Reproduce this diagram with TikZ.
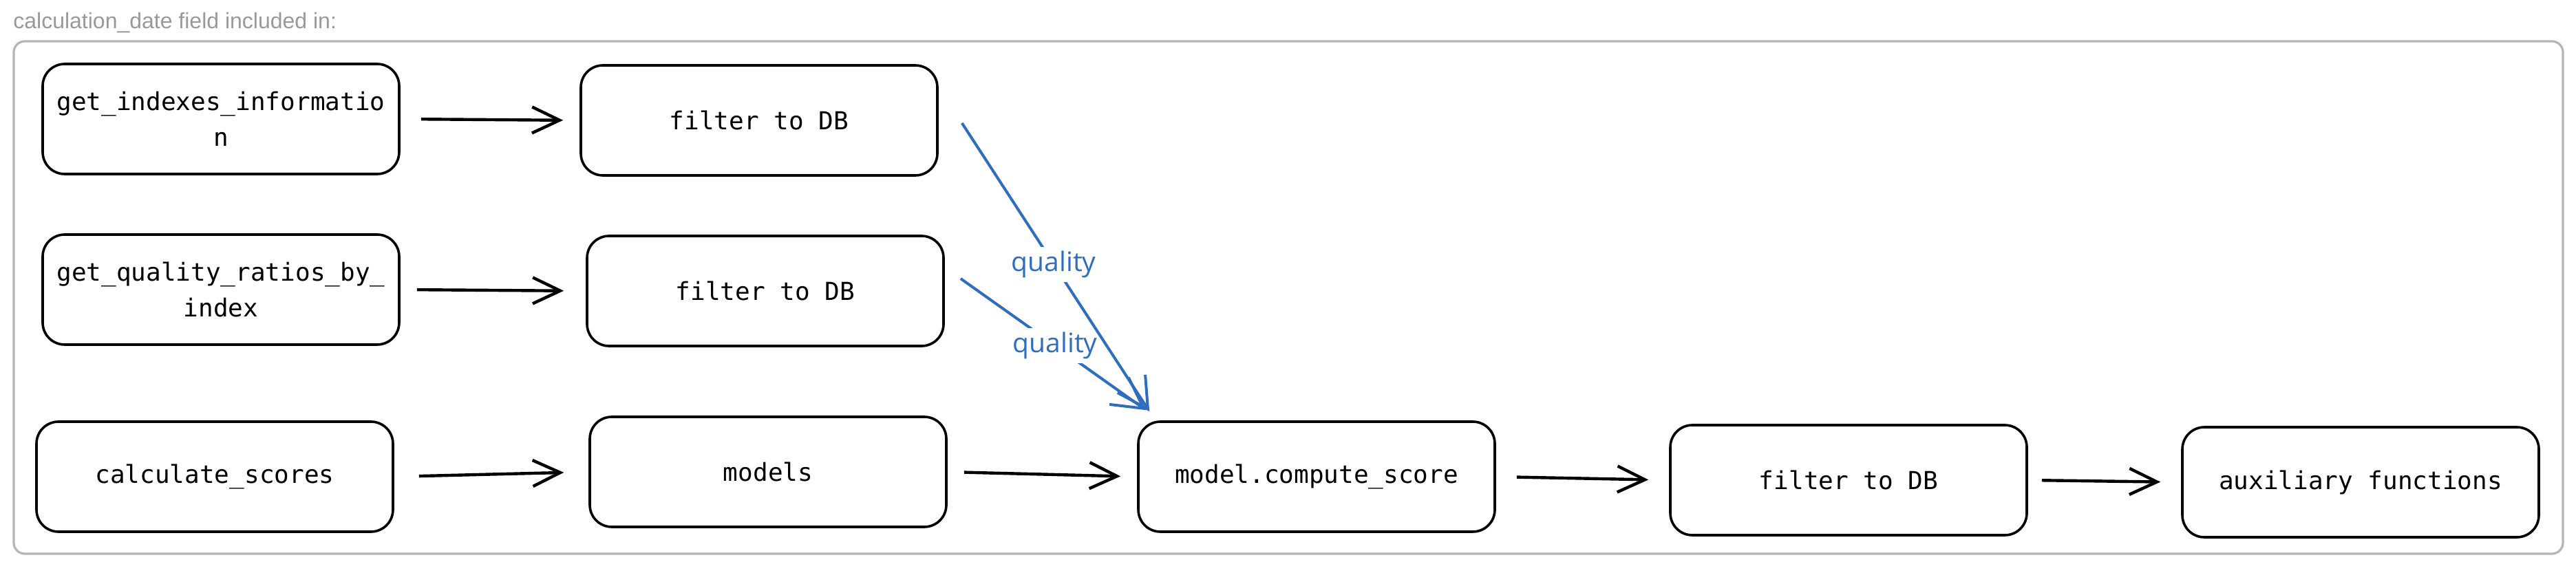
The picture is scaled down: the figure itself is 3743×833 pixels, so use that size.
\documentclass[tikz,border=0pt]{standalone}
\usepackage{fontspec}
\usetikzlibrary{arrows.meta,calc}
\newfontfamily\boxfont{DejaVu Sans Mono}
\newfontfamily\titlefont{Liberation Sans}
\newfontfamily\labelfont{Open Sans}
\definecolor{framegray}{HTML}{B5B5B5}
\definecolor{qblue}{HTML}{2F6DBE}
\definecolor{titlegray}{HTML}{999999}
\begin{document}
\begin{tikzpicture}[x=0.5pt,y=-0.5pt,
  fbox/.style={draw=black, line width=1.8pt, rounded corners=16pt, minimum width=259pt, minimum height=80pt, align=center, font=\boxfont\fontsize{18}{26}\selectfont, inner sep=0pt},
  arr/.style={line width=2.2pt, -{Straight Barb[length=20pt,width=19pt,line width=2.2pt]}},
  qarr/.style={draw=qblue, line width=2pt, -{Straight Barb[length=22pt,width=24pt,line width=2pt]}},
  qlabel/.style={fill=white, text=qblue, font=\labelfont\fontsize{19.5}{22}\selectfont, inner sep=3pt}]
\useasboundingbox (0,0) rectangle (3743,833);
\node[anchor=west, text=titlegray, font=\titlefont\fontsize{16}{18}\selectfont, inner sep=0pt] (title) at (19,33) {calculation\_date field included in:};
\node[draw=framegray, line width=1.6pt, rounded corners=8pt, minimum width=1852pt, minimum height=372.5pt, inner sep=0pt] (frame) at (1872,432.5) {};
\node[fbox] (A) at (321,173) {get\_indexes\_informatio\\n};
\node[fbox] (B) at (1103,175) {filter to DB};
\node[fbox] (C) at (321,421) {get\_quality\_ratios\_by\_\\index};
\node[fbox] (D) at (1112,423) {filter to DB};
\node[fbox] (E) at (312,693) {calculate\_scores};
\node[fbox] (F) at (1116,686) {models};
\node[fbox] (G) at (1913,693) {model.compute\_score};
\node[fbox] (H) at (2686,698) {filter to DB};
\node[fbox] (I) at (3430,701) {auxiliary functions};
\draw[arr, shorten <=15pt, shorten >=12pt] (A.east) -- (B.west);
\draw[arr, shorten <=12pt, shorten >=16pt] (C.east) -- (D.west);
\draw[arr, shorten <=18pt, shorten >=18pt] (E.east) -- (F.west);
\draw[arr, shorten <=12pt, shorten >=12pt] (F.east) -- (G.west);
\draw[arr, shorten <=15pt, shorten >=15pt] (G.east) -- (H.west);
\draw[arr, shorten <=10pt, shorten >=15pt] (H.east) -- (I.west);
\draw[qarr] ([shift={(23,-18)}]D.east) -- node[qlabel, pos=0.51] {quality} ([shift={(13,-15)}]G.north west);
\draw[qarr] ([shift={(34,4)}]B.east) -- node[qlabel, pos=0.49] {quality} ([shift={(18,-13)}]G.north west);
\end{tikzpicture}
\end{document}
